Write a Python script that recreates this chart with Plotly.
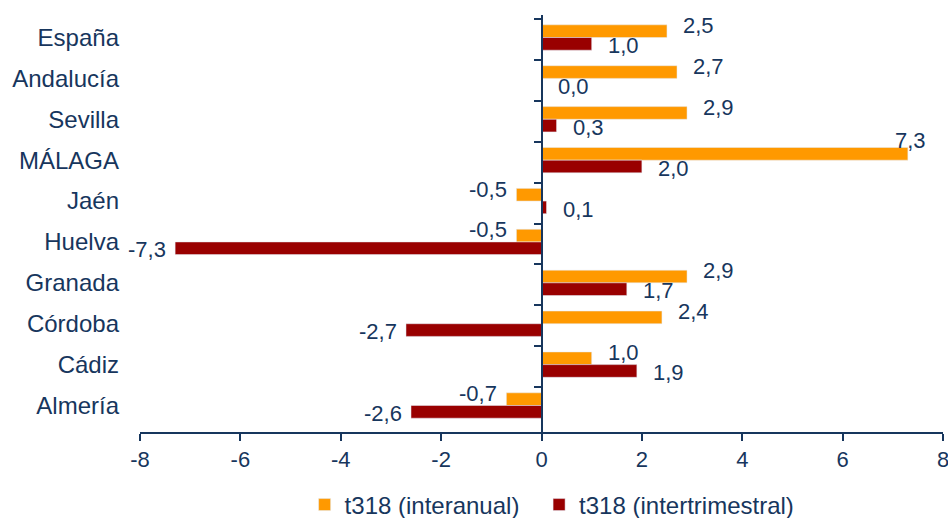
import plotly.graph_objects as go

categories = ["España", "Andalucía", "Sevilla", "MÁLAGA", "Jaén", "Huelva",
              "Granada", "Córdoba", "Cádiz", "Almería"]
interanual = [2.5, 2.7, 2.9, 7.3, -0.5, -0.5, 2.9, 2.4, 1.0, -0.7]
intertrimestral = [1.0, 0.0, 0.3, 2.0, 0.1, -7.3, 1.7, -2.7, 1.9, -2.6]
x_ticks = [-8, -6, -4, -2, 0, 2, 4, 6, 8]
series_names = ["t318 (interanual)", "t318 (intertrimestral)"]

NAVY = "#17365D"
FONT = "Liberation Sans, Arial, sans-serif"
COLORS = ["#FF9900", "#990000"]
X_MAX = 8


def fmt(v):
    return f"{v:.1f}".replace(".", ",")


fig = go.Figure()
for name, vals, col, leg in zip(series_names, [interanual, intertrimestral], COLORS,
                                ["legend", "legend2"]):
    fig.add_trace(go.Bar(
        y=categories, x=vals, orientation="h", name=name,
        marker=dict(color=col), cliponaxis=False, legend=leg,
    ))

# data labels: orange above-right of its bar end, red below-right
for vals, yshift in [(interanual, 12), (intertrimestral, -8)]:
    for cat, v in zip(categories, vals):
        if v >= 0 and v > X_MAX - 1.2:
            # near the right edge: keep the label inside, above the bar end
            anchor, xs, ys = "right", 20, yshift + 8
        elif v >= 0:
            anchor, xs, ys = "left", 14, yshift
        else:
            anchor, xs, ys = "right", -7, yshift
        fig.add_annotation(
            x=v, y=cat, xref="x", yref="y", text=fmt(v), showarrow=False,
            xanchor=anchor, yanchor="middle", xshift=xs, yshift=ys,
            font=dict(size=22, color=NAVY, family=FONT),
        )

# invisible trace to carry the centre axis (line at x = 0 with boundary ticks)
fig.add_trace(go.Scatter(
    y=categories, x=[0] * len(categories), yaxis="y2", mode="markers",
    marker=dict(opacity=0), showlegend=False, hoverinfo="skip",
))

legend_style = dict(orientation="h", yanchor="middle", y=-0.175, xanchor="left",
                    font=dict(size=24, color=NAVY, family=FONT), itemwidth=30,
                    bgcolor="rgba(0,0,0,0)")

fig.update_layout(
    width=948, height=518,
    margin=dict(l=140, r=5, t=15, b=86, autoexpand=False),
    paper_bgcolor="white", plot_bgcolor="white",
    barmode="group", bargap=0.38, bargroupgap=0,
    font=dict(family=FONT, size=22, color=NAVY),
    showlegend=True,
    legend=dict(x=0.205, **legend_style),
    legend2=dict(x=0.497, **legend_style),
    xaxis=dict(range=[-X_MAX, X_MAX], tickvals=x_ticks, ticktext=[str(t) for t in x_ticks],
               automargin=False, ticklabeloverflow="allow",
               showgrid=False, zeroline=False, showline=True, linecolor=NAVY, linewidth=2,
               ticks="outside", ticklen=7, tickwidth=2, tickcolor=NAVY,
               tickfont=dict(size=22, color=NAVY, family=FONT)),
    yaxis=dict(type="category", categoryorder="array", categoryarray=categories,
               autorange="reversed", showgrid=False, zeroline=False, showline=False,
               automargin=False, ticks="", ticklabelstandoff=20,
               tickfont=dict(size=24, color=NAVY, family=FONT)),
    yaxis2=dict(type="category", categoryorder="array", categoryarray=categories,
                autorange="reversed", overlaying="y", anchor="free", position=0.5,
                automargin=False,
                showticklabels=False, showgrid=False, zeroline=False,
                showline=True, linecolor=NAVY, linewidth=2,
                ticks="outside", ticklen=7, tickwidth=2, tickcolor=NAVY,
                tickson="boundaries"),
)

fig.write_html("out.html", config={"displayModeBar": False},
               post_script="document.body.style.margin='0';document.body.style.padding='0';")
